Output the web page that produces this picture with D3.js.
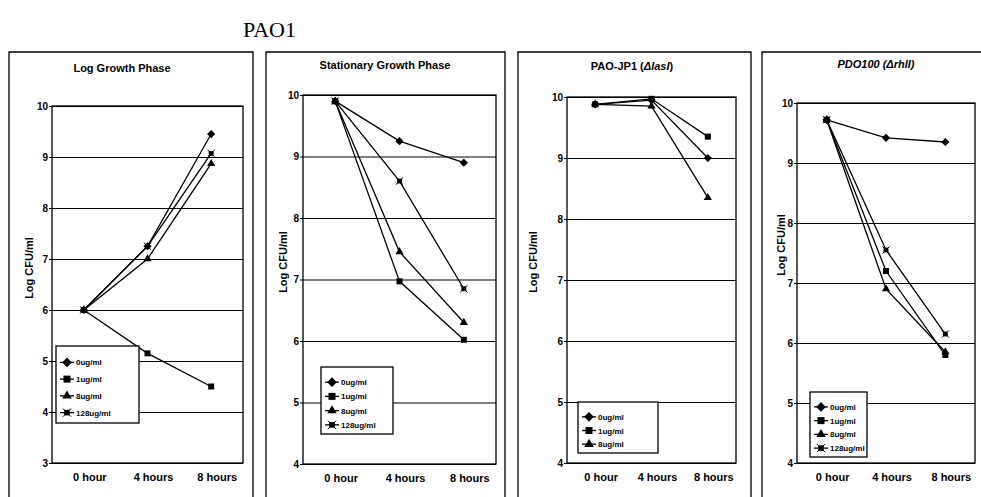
<!DOCTYPE html>
<html lang="en">
  <head>
    <meta charset="utf-8">
    <title>PAO1 kill curves</title>
    <style media="screen">
      html, body {
        margin: 0;
        background: white;
      }
      svg {
        display: block;
        font-family: "Liberation Sans", Arial, sans-serif;
      }
      .grid line { stroke: #000; stroke-width: 1.2; }
      .grid path { display: none; }
      .yaxis path, .yaxis line { stroke: #000; }
      .yaxis text { font-size: 10px; font-weight: bold; fill: #000; }
    </style>
    <script src="https://d3js.org/d3.v7.min.js"></script>
  </head>
  <body>
    <svg id="chart" width="981" height="497"></svg>
  <script type="text/javascript">
  // categories and series
  const times = ["0 hour", "4 hours", "8 hours"];
  const doses = ["0ug/ml", "1ug/ml", "8ug/ml", "128ug/ml"];
  const markers = ["diamond", "square", "triangle", "xsquare"];

  const logPhase = [
    [6.0, 7.25, 9.45],
    [6.0, 5.15, 4.5],
    [6.0, 7.0, 8.87],
    [6.0, 7.25, 9.07]
  ];
  const stationaryPhase = [
    [9.9, 9.25, 8.9],
    [9.9, 6.97, 6.02],
    [9.9, 7.45, 6.3],
    [9.9, 8.6, 6.85]
  ];
  const lasI = [
    [9.88, 9.95, 9.0],
    [9.88, 9.97, 9.35],
    [9.88, 9.85, 8.35]
  ];
  const rhlI = [
    [9.72, 9.42, 9.35],
    [9.72, 7.2, 5.8],
    [9.72, 6.9, 5.85],
    [9.72, 7.55, 6.15]
  ];

  const yTicks1 = [3, 4, 5, 6, 7, 8, 9, 10];
  const yTicks = [4, 5, 6, 7, 8, 9, 10];

  // page layout for each panel (frame, plot area, legend box)
  const panels = [
    { title: [["Log Growth Phase", false]], data: logPhase, ticks: yTicks1,
      fx0: 9, fx1: 253, tx: 122, pl: 52, pr: 243, pt: 106, pb: 463, ty: 72, yl: 33, yc: 268,
      legend: { x: 56, y: 346, w: 83, h: 77 } },
    { title: [["Stationary Growth Phase", false]], data: stationaryPhase, ticks: yTicks,
      fx0: 266, fx1: 505, tx: 385, pl: 303, pr: 496, pt: 95, pb: 464, ty: 69, yl: 287, yc: 262,
      legend: { x: 321, y: 367, w: 72, h: 67 } },
    { title: [["PAO-JP1 (", false], ["\u0394lasI", true], [")", false]], data: lasI, ticks: yTicks,
      fx0: 518, fx1: 751, tx: 632, pl: 567, pr: 736, pt: 97, pb: 463, ty: 70, yl: 537, yc: 262,
      legend: { x: 578, y: 402, w: 80, h: 51 } },
    { title: [["PDO100 (\u0394rhlI)", true]], data: rhlI, ticks: yTicks,
      fx0: 762, fx1: 990, tx: 876, pl: 797, pr: 975, pt: 103, pb: 463, ty: 68, yl: 785, yc: 245,
      legend: { x: 810, y: 392, w: 57, h: 65 } }
  ];

  const svg = d3.select("#chart");

  svg.append("text")
    .attr("x", 243).attr("y", 37)
    .style("font-family", "'Liberation Serif', 'Times New Roman', serif")
    .style("font-size", "22px")
    .text("PAO1");

  function drawMarker(g, type, x, y, s) {
    if (type === "diamond") {
      g.append("path")
        .attr("d", d3.symbol(d3.symbolDiamond2, s * s * 1.2)())
        .attr("transform", `translate(${x},${y})`)
        .attr("fill", "#000");
    } else if (type === "square") {
      g.append("rect").attr("x", x - s / 2).attr("y", y - s / 2)
        .attr("width", s).attr("height", s).attr("fill", "#000");
    } else if (type === "triangle") {
      g.append("path")
        .attr("d", d3.symbol(d3.symbolTriangle, s * s * 0.8)())
        .attr("transform", `translate(${x},${y})`)
        .attr("fill", "#000");
    } else {
      const h = s * 0.4;
      g.append("rect").attr("x", x - h).attr("y", y - h)
        .attr("width", h * 2).attr("height", h * 2).attr("fill", "#000");
      g.append("path")
        .attr("d", `M${x - s * 0.6},${y - s * 0.6}L${x + s * 0.6},${y + s * 0.6}M${x + s * 0.6},${y - s * 0.6}L${x - s * 0.6},${y + s * 0.6}`)
        .attr("stroke", "#000").attr("stroke-width", 1);
    }
  }

  panels.forEach(p => {
    const g = svg.append("g");

    // outer frame (runs off the bottom of the page)
    g.append("path")
      .attr("d", `M${p.fx0},${510}V${52}H${p.fx1}V${510}`)
      .attr("fill", "none").attr("stroke", "#000").attr("stroke-width", 1.3);

    const t = g.append("text")
      .attr("x", p.tx).attr("y", p.ty)
      .attr("text-anchor", "middle")
      .style("font-size", "11px").style("font-weight", "bold");
    p.title.forEach(([s, it]) => {
      t.append("tspan").style("font-style", it ? "italic" : "normal").text(s);
    });

    const x = d3.scaleBand().domain(times).range([p.pl, p.pr]);
    const y = d3.scaleLinear()
      .domain([p.ticks[0], p.ticks[p.ticks.length - 1]])
      .range([p.pb, p.pt]);

    g.append("g").attr("class", "grid")
      .attr("transform", `translate(${p.pl},0)`)
      .call(d3.axisLeft(y).tickValues(p.ticks).tickSize(-(p.pr - p.pl)).tickFormat(""));

    g.append("rect")
      .attr("x", p.pl).attr("y", p.pt)
      .attr("width", p.pr - p.pl).attr("height", p.pb - p.pt)
      .attr("fill", "none").attr("stroke", "#000").attr("stroke-width", 1.3);

    g.append("g").attr("class", "yaxis")
      .attr("transform", `translate(${p.pl},0)`)
      .call(d3.axisLeft(y).tickValues(p.ticks).tickSize(3).tickPadding(1).tickFormat(d3.format("d")))
      .call(a => a.select(".domain").remove());

    g.append("g")
      .selectAll("text")
      .data(times)
      .enter().append("text")
      .attr("x", d => x(d) + x.bandwidth() / 2 + 6)
      .attr("y", p.pb + 18)
      .attr("text-anchor", "middle")
      .style("font-size", "11px").style("font-weight", "bold")
      .text(d => d);

    g.append("text")
      .attr("transform", `translate(${p.yl},${p.yc}) rotate(-90)`)
      .attr("text-anchor", "middle")
      .style("font-size", "11px").style("font-weight", "bold")
      .text("Log CFU/ml");

    const line = d3.line()
      .x((d, i) => x(times[i]) + x.bandwidth() / 2)
      .y(d => y(d));

    p.data.forEach((series, si) => {
      g.append("path")
        .attr("d", line(series))
        .attr("fill", "none").attr("stroke", "#000").attr("stroke-width", 1.3);
      series.forEach((v, i) => {
        drawMarker(g, markers[si], x(times[i]) + x.bandwidth() / 2, y(v), 6);
      });
    });

    // legend
    const L = p.legend;
    g.append("rect")
      .attr("x", L.x).attr("y", L.y).attr("width", L.w).attr("height", L.h)
      .attr("fill", "#fff").attr("stroke", "#000").attr("stroke-width", 1.3);
    const step = (L.h - 10) / p.data.length;
    p.data.forEach((series, si) => {
      const ly = L.y + 8 + step * (si + 0.5);
      g.append("line")
        .attr("x1", L.x + 4).attr("x2", L.x + 18)
        .attr("y1", ly).attr("y2", ly)
        .attr("stroke", "#000").attr("stroke-width", 1.3);
      drawMarker(g, markers[si], L.x + 11, ly, 7);
      g.append("text")
        .attr("x", L.x + 20).attr("y", ly + 3)
        .style("font-size", "8px").style("font-weight", "bold")
        .text(doses[si]);
    });
  });
  </script>
  </body>
</html>
